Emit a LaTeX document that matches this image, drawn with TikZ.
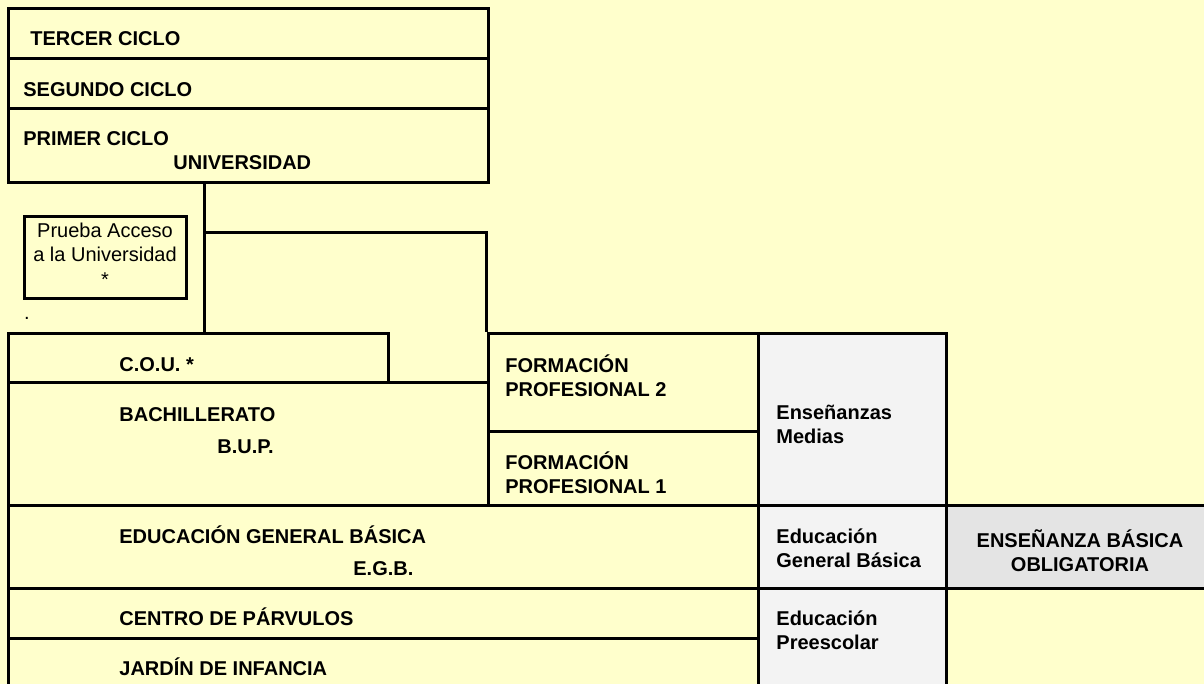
\documentclass[tikz,border=0pt]{standalone}
\usepackage{fontspec}
\setmainfont{Liberation Sans}
\usepackage{xcolor}
\usepackage{tikz}
\usetikzlibrary{fit}
\definecolor{fondo}{HTML}{FFFFCC}
\definecolor{gris}{HTML}{F3F3F3}
\definecolor{grisosc}{HTML}{E4E4E4}

\begin{document}
\begin{tikzpicture}[x=0.5pt, y=-0.5pt,
	box/.style={draw, line width=1.5pt, inner sep=0pt},
	lbl/.style={anchor=base west, inner sep=0pt, font=\fontsize{10}{12}\selectfont\bfseries},
	txt/.style={anchor=base, inner sep=0pt, font=\fontsize{10}{12}\selectfont}]
	\useasboundingbox (0,0) rectangle (1204,684);
	\clip (0,0) rectangle (1204,684);
	\fill[fondo] (0,0) rectangle (1204,684);
	
	% Boxes
	\node (tercer) [box, fit={(8,9) (488,59)}] {};
	\node (segundo) [box, fit={(8,59) (488,109)}] {};
	\node (primer) [box, fit={(8,109) (488,183)}] {};
	\node (prueba) [box, fit={(24,217) (186,298)}] {};
	\node (cou) [box, fit={(8,333) (388,382)}] {};
	\node (bach) [box, fit={(8,382) (488,505)}] {};
	\node (fp2) [box, fit={(488,333) (758,431)}] {};
	\node (fp1) [box, fit={(488,431) (758,505)}] {};
	\node (medias) [box, fill=gris, fit={(758,333) (946,505)}] {};
	\node (egb) [box, fit={(8,505) (758,588)}] {};
	\node (egbside) [box, fill=gris, fit={(758,505) (946,588)}] {};
	\node (oblig) [box, fill=grisosc, fit={(946,505) (1215,588)}] {};
	\node (parv) [box, fit={(8,588) (758,638)}] {};
	\node (jardin) [box, fit={(8,638) (758,700)}] {};
	\node (presc) [box, fill=gris, fit={(758,588) (946,700)}] {};
	
	% Edges
	\coordinate (codo) at (204,233);
	\draw[line width=1.5pt] (primer.south -| codo) -- (cou.north -| codo);
	\draw[line width=1.5pt] (codo) -- (codo -| fp2.north west) -- (fp2.north west);
	
	% Labels
	\node (tTercer) [lbl] at (30,46) {TERCER CICLO};
	\node (tSegundo) [lbl] at (23,97) {SEGUNDO CICLO};
	\node (tPrimer) [lbl] at (23,146) {PRIMER CICLO};
	\node (tUniv) [lbl] at (173,170) {UNIVERSIDAD};
	\node (tPrueba1) [txt] at (105,238) {Prueba Acceso};
	\node (tPrueba2) [txt] at (105,262) {a la Universidad};
	\node (tPrueba3) [txt] at (105,286) {*};
	\node (punto) [txt] at (27,319) {.};
	\node (tCou) [lbl] at (119,371) {C.O.U. *};
	\node (tBach) [lbl] at (119,421) {BACHILLERATO};
	\node (tBup) [lbl] at (217,453) {B.U.P.};
	\node (tFp2a) [lbl] at (505,372) {FORMACIÓN};
	\node (tFp2b) [lbl] at (505,396) {PROFESIONAL 2};
	\node (tFp1a) [lbl] at (505,469) {FORMACIÓN};
	\node (tFp1b) [lbl] at (505,493) {PROFESIONAL 1};
	\node (tMedias1) [lbl] at (776,419) {Enseñanzas};
	\node (tMedias2) [lbl] at (776,443) {Medias};
	\node (tEgb1) [lbl] at (119,543) {EDUCACIÓN GENERAL BÁSICA};
	\node (tEgb2) [lbl] at (353,575) {E.G.B.};
	\node (tEgbSide1) [lbl] at (776,543) {Educación};
	\node (tEgbSide2) [lbl] at (776,567) {General Básica};
	\node (tOblig1) [lbl, anchor=base] at (1080,547) {ENSEÑANZA BÁSICA};
	\node (tOblig2) [lbl, anchor=base] at (1080,571) {OBLIGATORIA};
	\node (tParv) [lbl] at (119,625) {CENTRO DE PÁRVULOS};
	\node (tJardin) [lbl] at (119,675) {JARDÍN DE INFANCIA};
	\node (tPresc1) [lbl] at (776,625) {Educación};
	\node (tPresc2) [lbl] at (776,649) {Preescolar};
	
\end{tikzpicture}
\end{document}
